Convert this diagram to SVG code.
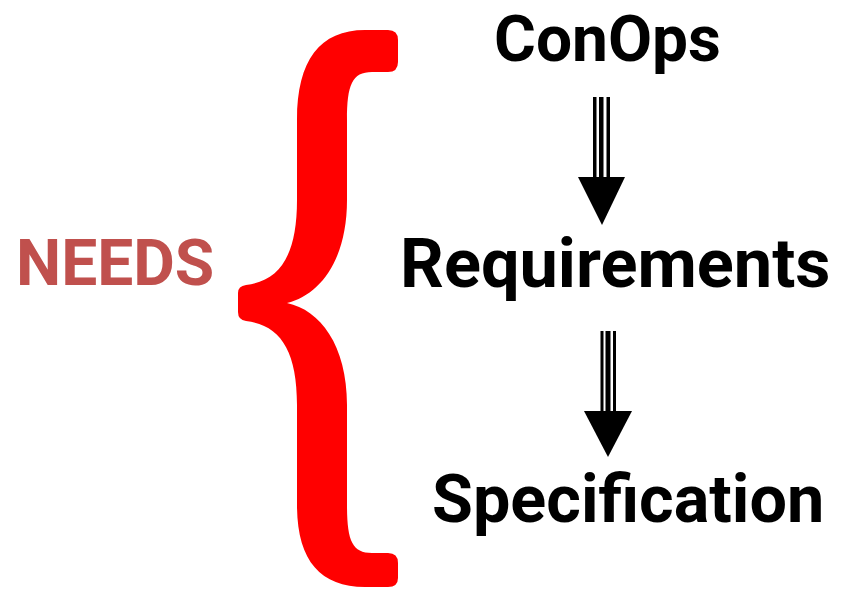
<svg xmlns="http://www.w3.org/2000/svg" width="845" height="594" viewBox="0 0 845 594">
<style>
.t{font-family:Roboto,"Open Sans","Liberation Sans",Arial,sans-serif;font-weight:bold;fill:#000}
.needs{fill:#C0504D}
.shaft{fill:#000}
</style>
<rect width="845" height="594" fill="#fff"/>
<g id="brace">
<path fill="#FF0000" d="M 365,30 L 388,30 Q 398,30 398,40 L 398,62 Q 398,72 388,72 L 372,72 C 352,72 347,85 347,120 L 347,200 C 347,260 320,295 287,303 C 320,310 347,345 347,405 L 347,505 C 347,540 352,553 372,553 L 388,553 Q 398,553 398,563 L 398,578 Q 398,587 388,587 L 365,587 C 320,587 297,560 297,505 L 297,405 C 297,350 280,325 246,321 Q 238,320 238,312 L 238,293 Q 238,286 246,285 C 280,281 297,255 297,200 L 297,120 C 297,60 320,30 365,30 Z"/>
</g>
<g id="needs"><text class="t needs" x="16" y="285" font-size="64">NEEDS</text></g>
<g id="conops"><text class="t" x="494" y="61" font-size="64">ConOps</text></g>
<g id="requirements"><text class="t" x="400" y="287" font-size="68.5">Requirements</text></g>
<g id="specification"><text class="t" x="432" y="522" font-size="66.5">Specification</text></g>
<g id="connectors">
<g id="arrow1">
<rect class="shaft" x="593" y="97" width="3.5" height="82"/>
<rect class="shaft" x="599" y="97" width="4.5" height="82"/>
<rect class="shaft" x="606.5" y="97" width="3.5" height="82"/>
<polygon points="578,177 625,177 602,225" fill="#000"/>
</g>
<g id="arrow2">
<rect class="shaft" x="600.5" y="331" width="3" height="82"/>
<rect class="shaft" x="605.5" y="331" width="5" height="82"/>
<rect class="shaft" x="613" y="331" width="3" height="82"/>
<polygon points="584,411 632,411 608,457" fill="#000"/>
</g>
</g>
</svg>
